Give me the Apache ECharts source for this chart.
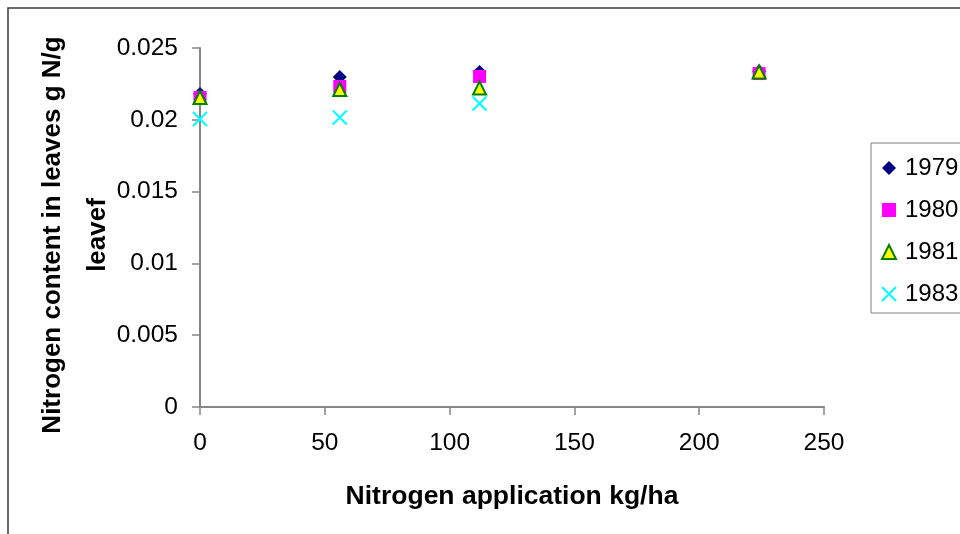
<!DOCTYPE html>
<html>
<head>
<meta charset="utf-8">
<script src="https://cdn.jsdelivr.net/npm/echarts@6/dist/echarts.min.js"></script>
<style>
  html, body { margin: 0; padding: 0; background: #fff; }
  #main { width: 960px; height: 534px; }
</style>
</head>
<body>
<div id="main"></div>
<script>
// nitrogen rates (kg/ha)
var nRates = [0, 56, 112, 224];
var years = ['1979', '1980', '1981', '1983'];
var y1979 = [0.02180, 0.02298, 0.02333, 0.02338];
var y1980 = [0.02155, 0.02232, 0.02302, 0.02322];
var y1981 = [0.02155, 0.02211, 0.02221, 0.02333];
var y1983 = [0.02006, 0.02016, 0.02113, null];
var yTitle = ['Nitrogen content in leaves g N/g', 'leavef'];

function pairs(vals) {
  var out = [];
  vals.forEach(function (v, i) {
    if (v !== null) out.push([nRates[i], v]);
  });
  return out;
}

var font = 'Liberation Sans, Arial, sans-serif';
var titleStyle = { fontSize: 26, fontWeight: 'bold', fill: '#000', fontFamily: font, align: 'center', verticalAlign: 'middle' };
var chart = echarts.init(document.getElementById('main'));
chart.setOption({
  backgroundColor: '#fff',
  animation: false,
  textStyle: { fontFamily: font },
  graphic: [{
    type: 'rect',
    shape: { x: 8, y: 8, width: 1000, height: 600 },
    style: { fill: 'none', stroke: '#3a3a3a', lineWidth: 1.5 },
    silent: true
  }, {
    type: 'text', x: 53, y: 235, rotation: Math.PI / 2,
    style: Object.assign({ text: yTitle[0] }, titleStyle)
  }, {
    type: 'text', x: 98, y: 235, rotation: Math.PI / 2,
    style: Object.assign({ text: yTitle[1] }, titleStyle)
  }],
  grid: { left: 200, right: 136, top: 48, bottom: 127, outerBoundsMode: 'none', containLabel: false },
  legend: {
    orient: 'vertical',
    left: 871,
    top: 143,
    padding: [13, 20, 7, 10],
    itemGap: 18,
    itemWidth: 14,
    itemHeight: 14,
    borderColor: '#808080',
    borderWidth: 1,
    textStyle: { fontSize: 24, color: '#000', fontFamily: font, padding: [0, 0, 0, 4] },
    data: years
  },
  xAxis: {
    type: 'value',
    min: 0, max: 250, interval: 50,
    name: 'Nitrogen application kg/ha',
    nameLocation: 'middle',
    nameGap: 76,
    nameTextStyle: { fontSize: 26.5, fontWeight: 'bold', color: '#000', fontFamily: font },
    axisLine: { lineStyle: { color: '#868686', width: 2 } },
    axisTick: { show: true, length: 8, lineStyle: { color: '#868686', width: 1.5 } },
    axisLabel: { fontSize: 24.5, color: '#000', margin: 24, fontFamily: font },
    splitLine: { show: false }
  },
  yAxis: {
    type: 'value',
    min: 0, max: 0.025, interval: 0.005,
    axisLine: { show: true, lineStyle: { color: '#868686', width: 2 } },
    axisTick: { show: true, length: 8, lineStyle: { color: '#868686', width: 1.5 } },
    axisLabel: { fontSize: 24.5, color: '#000', margin: 22, fontFamily: font },
    splitLine: { show: false }
  },
  series: [{
    name: '1979', type: 'scatter', symbol: 'diamond', symbolSize: 14,
    itemStyle: { color: '#000080', opacity: 1 },
    data: pairs(y1979)
  }, {
    name: '1980', type: 'scatter', symbol: 'rect', symbolSize: 13,
    itemStyle: { color: '#FF00FF', opacity: 1 },
    data: pairs(y1980)
  }, {
    name: '1981', type: 'scatter', symbol: 'triangle', symbolSize: 13,
    itemStyle: { color: '#FFFF00', borderColor: '#008000', borderWidth: 2, opacity: 1 },
    data: pairs(y1981)
  }, {
    name: '1983', type: 'scatter', symbol: 'path://M0,0L10,10M10,0L0,10', symbolSize: 14,
    itemStyle: { color: 'transparent', borderColor: '#00FFFF', borderWidth: 2, opacity: 1 },
    data: pairs(y1983)
  }]
});
</script>
</body>
</html>
